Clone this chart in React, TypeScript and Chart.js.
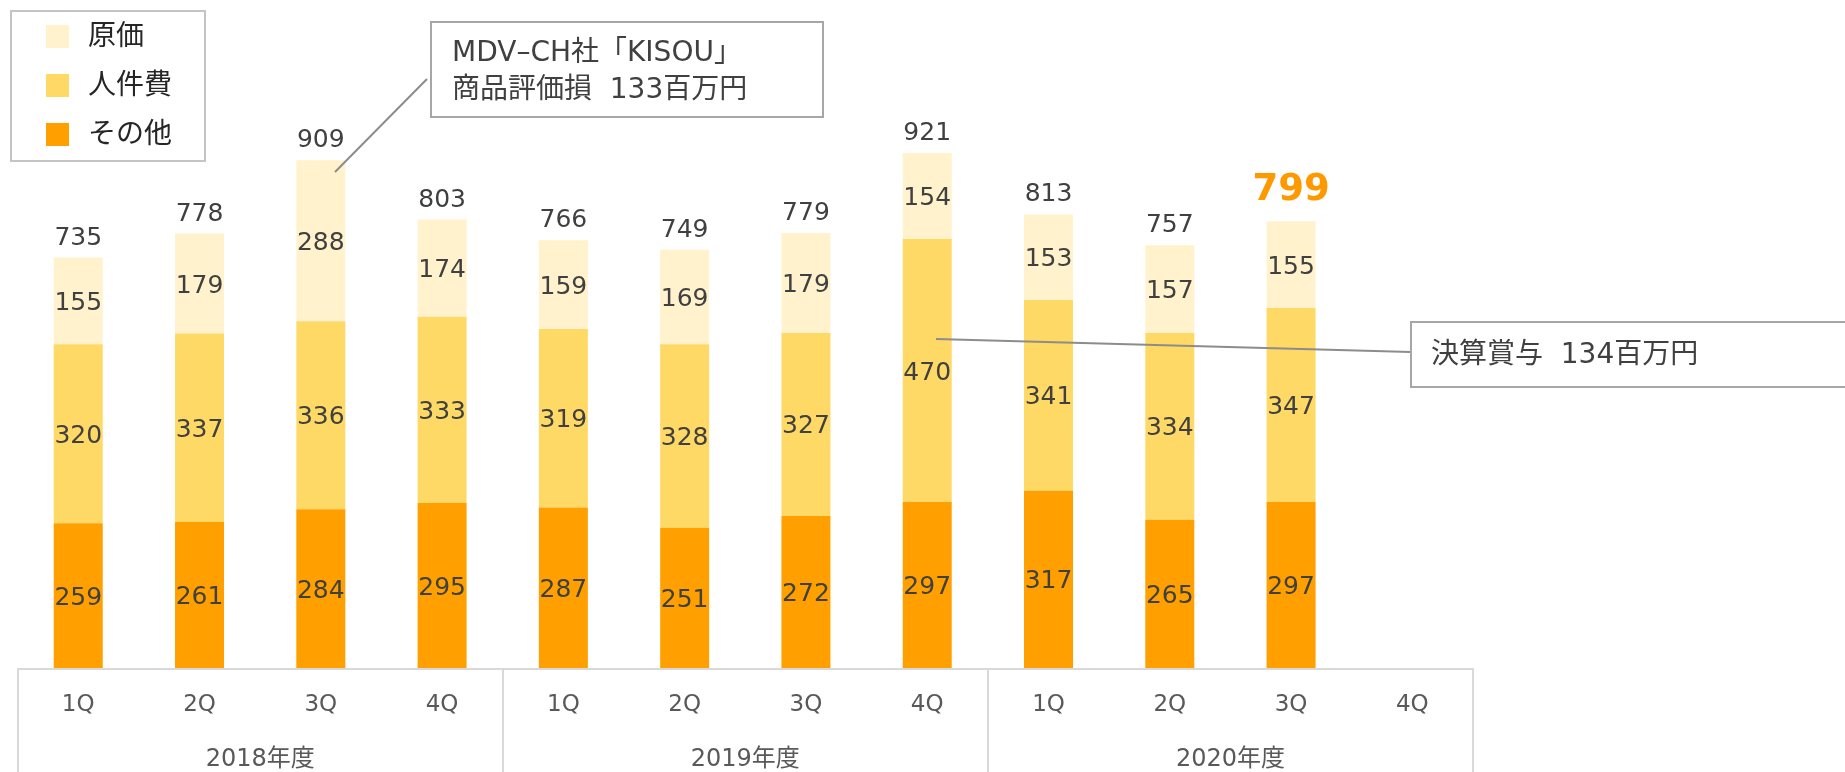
import React, { useEffect, useRef } from "react";
import { Chart, registerables } from "chart.js";

Chart.register(...registerables);

const quarters = ["1Q", "2Q", "3Q", "4Q", "1Q", "2Q", "3Q", "4Q", "1Q", "2Q", "3Q", "4Q"];
const fiscalYears = ["2018年度", "2019年度", "2020年度"];
const otherValues = [259, 261, 284, 295, 287, 251, 272, 297, 317, 265, 297, null];
const laborValues = [320, 337, 336, 333, 319, 328, 327, 470, 341, 334, 347, null];
const costValues = [155, 179, 288, 174, 159, 169, 179, 154, 153, 157, 155, null];
const totalValues = [735, 778, 909, 803, 766, 749, 779, 921, 813, 757, 799, null];
const highlightIndex = 10;
const seriesNames = ["その他", "人件費", "原価"];
const seriesColors = ["#FFA000", "#FFD966", "#FFF2CC"];
const note1Lines = ["MDV–CH社「KISOU」", "商品評価損  133百万円"];
const note2Lines = ["決算賞与  134百万円"];

const FONT = '"DejaVu Sans", "Noto Sans CJK JP", sans-serif';

const overlayPlugin = {
  id: "overlay",
  afterDatasetsDraw(chart: any) {
    const ctx = chart.ctx;
    const xs = chart.scales.x;
    const area = chart.chartArea;
    ctx.save();

    // segment labels
    ctx.textAlign = "center";
    ctx.textBaseline = "alphabetic";
    ctx.font = `25px ${FONT}`;
    ctx.fillStyle = "#404040";
    chart.data.datasets.forEach((ds: any, di: number) => {
      const meta = chart.getDatasetMeta(di);
      meta.data.forEach((el: any, i: number) => {
        const v = ds.data[i];
        if (v == null) return;
        const p = el.getProps(["x", "y", "base"], true);
        ctx.fillText(String(v), p.x, (p.y + p.base) / 2 + 9);
      });
    });

    // totals
    const topMeta = chart.getDatasetMeta(chart.data.datasets.length - 1);
    totalValues.forEach((t, i) => {
      if (t == null) return;
      const p = topMeta.data[i].getProps(["x", "y"], true);
      if (i === highlightIndex) {
        ctx.font = `bold 37px ${FONT}`;
        ctx.fillStyle = "#FF9900";
        ctx.fillText(String(t), p.x, p.y - 21);
      } else {
        ctx.font = `25px ${FONT}`;
        ctx.fillStyle = "#404040";
        ctx.fillText(String(t), p.x, p.y - 13);
      }
    });

    // axis box
    ctx.strokeStyle = "#d9d9d9";
    ctx.lineWidth = 2;
    ctx.beginPath();
    ctx.moveTo(area.left, area.bottom + 1);
    ctx.lineTo(area.right, area.bottom + 1);
    for (let g = 0; g <= fiscalYears.length; g++) {
      const px = Math.round(xs.getPixelForValue(g * 4 - 0.5));
      ctx.moveTo(px, area.bottom);
      ctx.lineTo(px, chart.height);
    }
    ctx.stroke();

    // connector lines
    ctx.strokeStyle = "#8c8c8c";
    ctx.lineWidth = 2;
    ctx.beginPath();
    ctx.moveTo(427, 79);
    ctx.lineTo(335, 172);
    ctx.moveTo(936, 339);
    ctx.lineTo(1411, 352);
    ctx.stroke();

    // legend
    ctx.strokeStyle = "#c4c4c4";
    ctx.lineWidth = 2;
    ctx.strokeRect(11, 11, 194, 150);
    const rows = [37, 86, 135];
    const order = [2, 1, 0];
    ctx.textAlign = "left";
    ctx.textBaseline = "middle";
    ctx.font = `28px ${FONT}`;
    order.forEach((di, r) => {
      const ds = chart.data.datasets[di];
      ctx.fillStyle = ds.backgroundColor;
      ctx.fillRect(46, rows[r] - 12, 23, 23);
      ctx.fillStyle = "#262626";
      ctx.fillText(ds.label, 88, rows[r] + 1);
    });

    // note boxes
    const drawNote = (x: number, y: number, w: number, h: number, lines: string[], tx: number, ty: number[]) => {
      ctx.fillStyle = "#ffffff";
      ctx.fillRect(x, y, w, h);
      ctx.strokeStyle = "#a6a6a6";
      ctx.lineWidth = 2;
      ctx.strokeRect(x, y, w, h);
      ctx.fillStyle = "#404040";
      ctx.font = `28px ${FONT}`;
      ctx.textAlign = "left";
      ctx.textBaseline = "middle";
      lines.forEach((l, k) => ctx.fillText(l, tx, ty[k]));
    };
    drawNote(431, 22, 392, 95, note1Lines, 452, [54, 91]);
    drawNote(1411, 322, 460, 65, note2Lines, 1431, [356]);

    ctx.restore();
  },
};

export default function App() {
  const ref = useRef<HTMLCanvasElement | null>(null);
  useEffect(() => {
    if (!ref.current) return;
    const chart = new Chart(ref.current, {
      type: "bar",
      data: {
        labels: quarters,
        datasets: [
          { label: seriesNames[0], data: otherValues, backgroundColor: seriesColors[0] },
          { label: seriesNames[1], data: laborValues, backgroundColor: seriesColors[1] },
          { label: seriesNames[2], data: costValues, backgroundColor: seriesColors[2] },
        ].map((d) => ({ ...d, categoryPercentage: 1, barPercentage: 0.404, borderWidth: 0 })),
      },
      options: {
        responsive: false,
        animation: false,
        layout: { padding: { left: 17.6, right: 372, top: 108.8, bottom: 0 } },
        plugins: { legend: { display: false }, tooltip: { enabled: false } },
        scales: {
          x: {
            type: "category",
            stacked: true,
            position: "bottom",
            weight: 0,
            grid: { display: false, drawTicks: false },
            border: { display: false },
            ticks: { font: { family: FONT, size: 23 }, color: "#595959", padding: 23, autoSkip: false, maxRotation: 0 },
            afterFit: (s: any) => { s.height = 64; },
          },
          x2: {
            type: "category",
            labels: fiscalYears,
            position: "bottom",
            weight: 1,
            offset: true,
            grid: { display: false, drawTicks: false },
            border: { display: false },
            ticks: { font: { family: FONT, size: 24 }, color: "#595959", padding: 13, autoSkip: false, maxRotation: 0 },
            afterFit: (s: any) => { s.height = 40; },
          },
          y: { display: false, stacked: true, min: 0, max: 1000 },
        },
      } as any,
      plugins: [overlayPlugin],
    });
    return () => chart.destroy();
  }, []);
  return (
    <div style={{ position: "absolute", left: 0, top: 0, width: 1845, height: 772, background: "#fff" }}>
      <canvas ref={ref} width={1845} height={772} style={{ display: "block" }} />
    </div>
  );
}
